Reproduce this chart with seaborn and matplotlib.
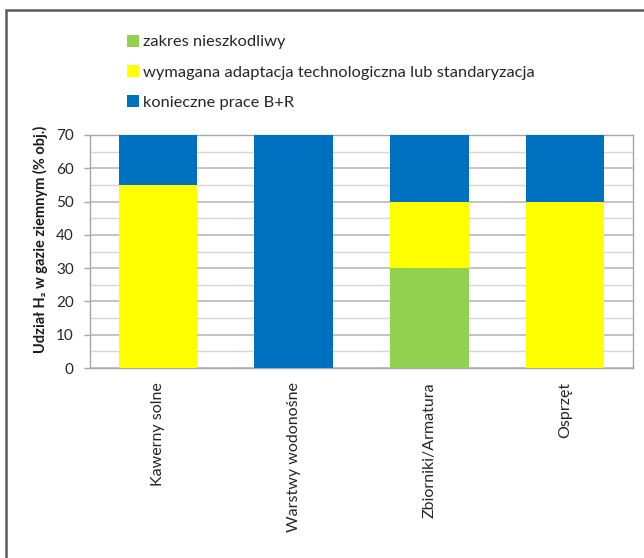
import matplotlib
matplotlib.use("Agg")
import matplotlib.pyplot as plt
from matplotlib.patches import Patch, Rectangle
import numpy as np
import pandas as pd
import seaborn as sns

categories = ["Kawerny solne", "Warstwy wodonośne", "Zbiorniki/Armatura", "Osprzęt"]
harmless = [0, 0, 30, 0]
adaptation = [55, 0, 20, 50]
research = [15, 70, 20, 20]
series_names = ["zakres nieszkodliwy",
                "wymagana adaptacja technologiczna lub standaryzacja",
                "konieczne prace B+R"]
colors = ["#92D050", "#FFFF00", "#0070C0"]
y_ticks = [0, 10, 20, 30, 40, 50, 60, 70]

sns.set_theme(style="white")
plt.rcParams["font.family"] = ["Lato", "DejaVu Sans"]

fig = plt.figure(figsize=(6.44, 5.58), dpi=100)
ax = fig.add_axes([90 / 644, 1 - 368 / 558, 543 / 644, 233 / 558])

# outer frame of the chart area
fig.patches.append(Rectangle((6 / 644, -0.05), 1.0, 1 - 10 / 558 + 0.05,
                             transform=fig.transFigure, fill=False,
                             edgecolor="#595959", linewidth=1.8, zorder=0))

df = pd.DataFrame({"cat": categories, "h": harmless, "a": adaptation, "r": research})
bottom = np.zeros(len(categories))
for col, name, c in zip(["h", "a", "r"], series_names, colors):
    sns.barplot(data=df, x="cat", y=col, color=c, width=0.58, bottom=bottom,
                ax=ax, saturation=1, linewidth=0, label=name, zorder=3)
    bottom = bottom + df[col].to_numpy()

ax.set_ylim(0, 70)
ax.set_yticks(y_ticks)
ax.set_yticks(np.arange(5, 70, 10), minor=True)
ax.yaxis.grid(True, which="major", color="#B3B3B3", linewidth=1.1, zorder=0)
ax.yaxis.grid(True, which="minor", color="#D6D6D6", linewidth=1.0, zorder=0)
ax.set_axisbelow(True)
for s in ax.spines.values():
    s.set_color("#A6A6A6")
    s.set_linewidth(1.0)
ax.tick_params(axis="y", which="major", left=True, length=4.3, width=1,
               color="#A6A6A6", labelsize=11, pad=7.5)
ax.tick_params(axis="y", which="minor", left=False, length=0)
ax.tick_params(axis="x", bottom=False, labelsize=11.5, pad=4)
ax.set_xticks(range(len(categories)))
ax.set_xticklabels(categories, rotation=90, va="top", color="#262626")
for t in ax.get_yticklabels():
    t.set_color("#262626")
ax.set_xlabel("")
ax.set_ylabel("Udział H₂ w gazie ziemnym (% obj.)", fontsize=10.5,
              fontweight="bold", color="#1a1a1a", va="center")
ax.yaxis.set_label_coords(-0.092, 0.55)

if ax.get_legend() is not None:
    ax.get_legend().remove()
handles = [Patch(facecolor=c, edgecolor="none") for c in colors]
fig.legend(handles, series_names, loc="upper left",
           bbox_to_anchor=(112 / 644, 1 - 20 / 558), frameon=False,
           fontsize=11.8, handlelength=0.75, handleheight=0.75,
           handletextpad=0.25, labelspacing=0.95, labelcolor="#262626")

fig.savefig("out.png", dpi=100)
